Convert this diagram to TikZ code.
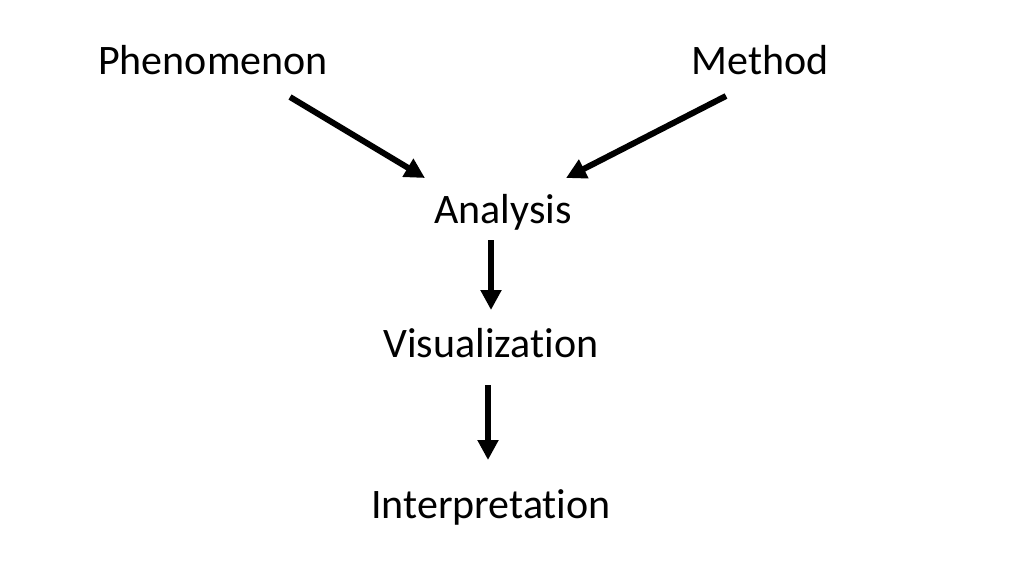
\documentclass[tikz,border=0pt]{standalone}
\usepackage{fontspec}
\setmainfont{Carlito}[Ligatures=NoCommon,RawFeature={-liga;-clig;-calt;-dlig}]
\usetikzlibrary{arrows.meta,calc}
\begin{document}
\begin{tikzpicture}[x=1pt,y=-1pt,
  lbl/.style={anchor=base,inner sep=0pt,font=\fontsize{42}{50}\selectfont},
  arr/.style={line width=6pt,-{Triangle[length=20pt,width=20pt]}}]
\useasboundingbox[fill=white] (0,0) rectangle (1024,576);
\node[lbl] (phen) at (213,74) {Phenomenon};
\node[lbl] (meth) at (760,74) {Method};
\node[lbl] (ana) at (503,223) {Analysis};
\node[lbl] (vis) at (491,357) {Visualization};
\node[lbl] (interp) at (491,518) {Interpretation};
\draw[arr] ($(phen.base)+(77,23)$) -- ($(ana.base)+(-78,-45)$);
\draw[arr] ($(meth.base)+(-34,22)$) -- ($(ana.base)+(63,-45)$);
\draw[arr] ($(ana.base)+(-12,17)$) -- ($(vis.base)+(0,-47)$);
\draw[arr] ($(vis.base)+(-3,28)$) -- ($(interp.base)+(-3,-58)$);
\end{tikzpicture}
\end{document}
